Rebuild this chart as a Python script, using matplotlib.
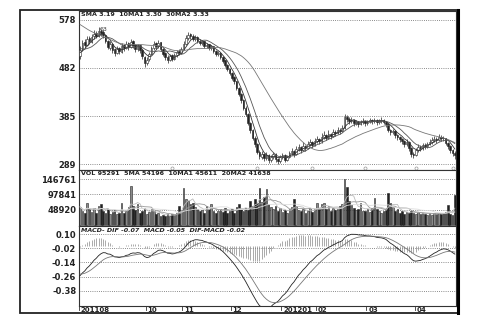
import numpy as np
import pandas as pd
import matplotlib.pyplot as plt
from matplotlib.patches import Rectangle
from matplotlib.lines import Line2D

# price history before the visible window (only used to warm up the averages)
pre_close = [6.30, 6.26, 6.32, 6.28, 6.22, 6.25, 6.18, 6.20, 6.15, 6.18, 6.10,
             6.12, 6.05, 6.00, 5.94, 5.88, 5.90, 5.80, 5.74, 5.70, 5.62, 5.58,
             5.50, 5.44, 5.40, 5.32, 5.28, 5.20, 5.24, 5.15, 5.10, 5.08, 5.12]

# daily candles, 201108 .. 201204
close = [5.18, 5.32, 5.28, 5.40, 5.35, 5.44, 5.50, 5.46, 5.55, 5.52, 5.48, 5.36,
         5.24, 5.30, 5.18, 5.12, 5.20, 5.15, 5.26, 5.22, 5.30, 5.24, 5.34, 5.28,
         5.20, 5.26, 5.18, 5.05, 4.92, 4.98, 5.10, 5.22, 5.30, 5.26, 5.32, 5.20,
         5.10, 5.04, 4.98, 5.06, 5.00, 5.08, 5.14, 5.12, 5.20, 5.30, 5.42, 5.48,
         5.45, 5.40, 5.42, 5.36, 5.32, 5.34, 5.26, 5.28, 5.22, 5.24, 5.16, 5.10,
         5.12, 5.04, 4.96, 4.88, 4.80, 4.72, 4.62, 4.55, 4.42, 4.30, 4.18, 4.02,
         3.90, 3.72, 3.58, 3.42, 3.30, 3.14, 3.05, 3.10, 3.02, 3.08, 2.98, 3.04,
         3.10, 3.00, 2.96, 3.04, 3.08, 2.98, 3.04, 3.12, 3.16, 3.10, 3.20, 3.24,
         3.18, 3.26, 3.22, 3.30, 3.34, 3.28, 3.36, 3.40, 3.35, 3.44, 3.48, 3.42,
         3.50, 3.46, 3.54, 3.52, 3.58, 3.56, 3.62, 3.84, 3.80, 3.76, 3.78, 3.72,
         3.74, 3.70, 3.74, 3.76, 3.72, 3.74, 3.78, 3.75, 3.77, 3.73, 3.76, 3.78,
         3.74, 3.70, 3.58, 3.54, 3.56, 3.48, 3.44, 3.40, 3.36, 3.30, 3.34, 3.22,
         3.10, 3.08, 3.18, 3.24, 3.22, 3.28, 3.26, 3.30, 3.34, 3.38, 3.40, 3.38,
         3.44, 3.42, 3.41, 3.32, 3.26, 3.18, 3.12, 3.07]
open_ = [5.05, 5.20, 5.33, 5.27, 5.41, 5.34, 5.45, 5.52, 5.45, 5.56, 5.53, 5.47,
         5.35, 5.22, 5.30, 5.19, 5.12, 5.21, 5.14, 5.27, 5.22, 5.31, 5.24, 5.35,
         5.28, 5.19, 5.27, 5.17, 5.04, 4.91, 4.99, 5.10, 5.22, 5.31, 5.25, 5.33,
         5.20, 5.11, 5.04, 4.98, 5.07, 5.00, 5.08, 5.15, 5.12, 5.20, 5.30, 5.42,
         5.49, 5.46, 5.39, 5.43, 5.36, 5.31, 5.35, 5.25, 5.29, 5.21, 5.25, 5.16,
         5.09, 5.12, 5.04, 4.97, 4.88, 4.80, 4.72, 4.63, 4.55, 4.42, 4.30, 4.18,
         4.02, 3.90, 3.72, 3.58, 3.42, 3.30, 3.14, 3.04, 3.10, 3.02, 3.08, 2.97,
         3.04, 3.10, 3.00, 2.96, 3.04, 3.08, 2.98, 3.04, 3.12, 3.16, 3.10, 3.20,
         3.24, 3.18, 3.26, 3.22, 3.30, 3.34, 3.28, 3.36, 3.40, 3.35, 3.44, 3.48,
         3.42, 3.50, 3.46, 3.54, 3.52, 3.58, 3.56, 3.62, 3.84, 3.80, 3.76, 3.78,
         3.72, 3.74, 3.70, 3.74, 3.76, 3.72, 3.74, 3.78, 3.75, 3.77, 3.73, 3.76,
         3.78, 3.74, 3.70, 3.58, 3.54, 3.56, 3.48, 3.44, 3.40, 3.36, 3.30, 3.34,
         3.22, 3.10, 3.08, 3.18, 3.24, 3.22, 3.28, 3.26, 3.30, 3.34, 3.38, 3.40,
         3.38, 3.44, 3.42, 3.41, 3.32, 3.26, 3.18, 3.12]
high = [5.26, 5.38, 5.40, 5.46, 5.45, 5.50, 5.58, 5.56, 5.63, 5.60, 5.57, 5.50,
        5.38, 5.35, 5.32, 5.22, 5.26, 5.24, 5.32, 5.30, 5.36, 5.34, 5.40, 5.38,
        5.30, 5.30, 5.28, 5.20, 5.06, 5.04, 5.14, 5.26, 5.36, 5.34, 5.38, 5.34,
        5.22, 5.14, 5.08, 5.10, 5.10, 5.12, 5.18, 5.20, 5.24, 5.36, 5.48, 5.54,
        5.52, 5.50, 5.47, 5.45, 5.40, 5.38, 5.36, 5.32, 5.30, 5.28, 5.26, 5.18,
        5.16, 5.14, 5.06, 4.98, 4.90, 4.82, 4.74, 4.66, 4.56, 4.44, 4.32, 4.20,
        4.06, 3.92, 3.74, 3.60, 3.45, 3.32, 3.18, 3.16, 3.12, 3.14, 3.10, 3.08,
        3.14, 3.12, 3.02, 3.08, 3.12, 3.10, 3.08, 3.16, 3.22, 3.18, 3.26, 3.30,
        3.26, 3.34, 3.28, 3.36, 3.40, 3.36, 3.42, 3.46, 3.42, 3.52, 3.56, 3.50,
        3.58, 3.52, 3.60, 3.58, 3.64, 3.62, 3.68, 3.90, 3.88, 3.84, 3.84, 3.80,
        3.78, 3.76, 3.78, 3.82, 3.78, 3.78, 3.82, 3.80, 3.82, 3.80, 3.80, 3.84,
        3.80, 3.76, 3.72, 3.60, 3.60, 3.58, 3.50, 3.46, 3.42, 3.38, 3.40, 3.36,
        3.24, 3.14, 3.22, 3.30, 3.28, 3.32, 3.32, 3.34, 3.40, 3.44, 3.46, 3.44,
        3.50, 3.48, 3.46, 3.42, 3.34, 3.28, 3.20, 3.16]
low = [5.00, 5.16, 5.22, 5.25, 5.30, 5.32, 5.40, 5.42, 5.44, 5.46, 5.42, 5.32,
       5.20, 5.18, 5.12, 5.06, 5.10, 5.10, 5.12, 5.16, 5.20, 5.18, 5.22, 5.22,
       5.14, 5.16, 5.12, 5.00, 4.84, 4.88, 4.96, 5.08, 5.18, 5.20, 5.22, 5.16,
       5.06, 4.98, 4.92, 4.96, 4.96, 4.98, 5.04, 5.08, 5.10, 5.18, 5.28, 5.38,
       5.40, 5.36, 5.35, 5.32, 5.28, 5.27, 5.22, 5.22, 5.18, 5.18, 5.12, 5.06,
       5.05, 5.00, 4.92, 4.84, 4.76, 4.68, 4.58, 4.50, 4.38, 4.26, 4.12, 3.98,
       3.86, 3.68, 3.52, 3.38, 3.24, 3.10, 3.00, 3.00, 2.96, 2.98, 2.92, 2.94,
       3.00, 2.94, 2.90, 2.92, 3.00, 2.94, 2.96, 3.02, 3.08, 3.04, 3.08, 3.16,
       3.12, 3.16, 3.16, 3.20, 3.26, 3.22, 3.26, 3.32, 3.30, 3.32, 3.40, 3.38,
       3.40, 3.40, 3.44, 3.46, 3.50, 3.50, 3.54, 3.60, 3.74, 3.70, 3.72, 3.66,
       3.68, 3.64, 3.68, 3.70, 3.66, 3.68, 3.72, 3.70, 3.72, 3.68, 3.70, 3.72,
       3.70, 3.64, 3.54, 3.48, 3.50, 3.42, 3.38, 3.34, 3.30, 3.24, 3.26, 3.16,
       3.04, 3.02, 3.06, 3.14, 3.16, 3.18, 3.20, 3.22, 3.28, 3.30, 3.34, 3.32,
       3.36, 3.36, 3.36, 3.28, 3.20, 3.12, 3.06, 3.00]

# volume in thousands of shares
volume_k = [58, 45, 40, 72, 50, 42, 55, 38, 60, 68, 44, 40, 52, 36, 42, 48, 34,
            38, 70, 40, 46, 58, 124, 62, 48, 68, 40, 46, 55, 36, 42, 50, 45, 34,
            38, 30, 32, 28, 36, 30, 34, 32, 40, 60, 48, 120, 82, 78, 66, 72, 58,
            50, 44, 48, 40, 62, 52, 66, 46, 40, 44, 50, 42, 56, 38, 46, 52, 40,
            58, 68, 50, 44, 56, 48, 76, 62, 83, 70, 120, 74, 90, 114, 66, 58, 50,
            62, 46, 54, 42, 48, 40, 52, 58, 82, 60, 48, 44, 52, 40, 46, 56, 42,
            50, 70, 54, 66, 72, 50, 62, 44, 56, 48, 52, 60, 66, 146.761, 122, 76,
            64, 56, 48, 52, 70, 46, 44, 50, 42, 56, 88, 52, 46, 40, 44, 50, 104,
            72, 58, 46, 50, 40, 44, 36, 42, 38, 46, 40, 36, 42, 34, 38, 36, 32,
            40, 33, 38, 34, 40, 36, 37, 42, 65, 36, 32.7, 95.291]

month_labels = ['201108', '10', '11', '12', '201201', '02', '03', '04']
month_starts = [0, 29, 45, 66, 88, 103, 125, 146]
marker_days = [40, 77, 101, 124, 146, 162]

price_ticks = [5.78, 4.82, 3.85, 2.89]
price_tick_labels = ['578', '482', '385', '289']
vol_ticks = [146761, 97841, 48920]
macd_ticks = [0.10, -0.02, -0.14, -0.26, -0.38]

n = len(close)
x = np.arange(n)
o = np.array(open_)
c = np.array(close)
h = np.array(high)
l = np.array(low)
vol = np.array(volume_k) * 1000

# indicators
full = pd.Series(pre_close + close)
k = len(pre_close)
ma5 = full.rolling(5).mean().values[k:]
ma10 = full.rolling(10).mean().values[k:]
ma30 = full.rolling(30, min_periods=1).mean().values[k:]
dif_all = full.ewm(span=12, adjust=False).mean() - full.ewm(span=26, adjust=False).mean()
dea_all = dif_all.ewm(span=9, adjust=False).mean()
dif = dif_all.values[k:]
dea = dea_all.values[k:]
hist = dif - dea

vs = pd.Series(vol)
vma5 = vs.rolling(5, min_periods=1).mean()
vma10 = vs.rolling(10, min_periods=1).mean()
vma20 = vs.rolling(20, min_periods=1).mean()

W, H = 490, 315
def box(x0, y0, x1, y1):
    return [x0 / W, 1 - y1 / H, (x1 - x0) / W, (y1 - y0) / H]

fig = plt.figure(figsize=(4.9, 3.15), dpi=100)
ax1 = fig.add_axes(box(79, 11, 456, 170))
ax2 = fig.add_axes(box(79, 170, 456, 226), sharex=ax1)
ax3 = fig.add_axes(box(79, 226, 456, 306), sharex=ax1)

grid_kw = dict(color='#666666', lw=0.6, ls=(0, (1, 1.6)), zorder=0)
lab_kw = dict(fontsize=6, fontweight='bold', color='#222222')

for ax in (ax1, ax2, ax3):
    for s in ax.spines.values():
        s.set_color('#333333')
        s.set_linewidth(0.8)
    ax.tick_params(axis='y', length=0, pad=2)
    ax.tick_params(axis='x', length=0, labelbottom=False)
    ax.set_xlim(-0.5, n - 0.5)

# price panel
up = c >= o
ax1.vlines(x, l, h, color='#222222', lw=0.5, zorder=2)
body = np.maximum(np.abs(c - o), 0.008)
ax1.bar(x, body, bottom=np.minimum(o, c), width=0.72,
        color=np.where(up, 'white', '#222222'), edgecolor='#222222', lw=0.4, zorder=3)
ax1.plot(x, ma5, color='#333333', lw=0.6, zorder=4)
ax1.plot(x, ma10, color='#555555', lw=0.6, zorder=4)
ax1.plot(x, ma30, color='#777777', lw=0.6, zorder=4)
ax1.plot(marker_days, [2.82] * len(marker_days), 'o', ms=2.2, mfc='white',
         mec='#999999', mew=0.5, zorder=5)
for v in price_ticks:
    ax1.axhline(v, **grid_kw)
ax1.set_ylim(2.77, 5.96)
ax1.set_yticks(price_ticks)
ax1.set_yticklabels(price_tick_labels, **lab_kw)
ax1.text(8.6, 5.56, '63', fontsize=4.5, color='#333333')
ax1.text(0.5, 5.88, 'SMA 3.19  10MA1 3.30  30MA2 3.33', fontsize=4.6,
         fontweight='bold', color='#222222', va='center')

# volume panel
ax2.bar(x, vol, width=0.72, color=np.where(up, '#8a8a8a', '#222222'),
        edgecolor='#222222', lw=0.4, zorder=2)
ax2.plot(x, vma5, color='#bbbbbb', lw=0.6, zorder=3)
ax2.plot(x, vma10, color='#999999', lw=0.6, zorder=3)
ax2.plot(x, vma20, color='#dddddd', lw=0.6, zorder=3)
for v in vol_ticks:
    ax2.axhline(v, **grid_kw)
ax2.set_ylim(-3000, 176000)
ax2.set_yticks(vol_ticks)
ax2.set_yticklabels([str(v) for v in vol_ticks], **lab_kw)
ax2.text(0.5, 166000, 'VOL 95291  5MA 54196  10MA1 45611  20MA2 41638',
         fontsize=4.6, fontweight='bold', color='#222222', va='center')

# macd panel
ax3.vlines(x, 0, hist, color='#888888', lw=0.5, zorder=2)
ax3.plot(x, dif, color='#222222', lw=0.6, zorder=3)
ax3.plot(x, dea, color='#777777', lw=0.6, zorder=3)
for v in macd_ticks:
    ax3.axhline(v, **grid_kw)
ax3.set_ylim(-0.509, 0.169)
ax3.set_yticks(macd_ticks)
ax3.set_yticklabels(['%.2f' % v for v in macd_ticks], **lab_kw)
ax3.text(0.5, 0.135, 'MACD- DIF -0.07  MACD -0.05  DIF-MACD -0.02',
         fontsize=4.6, fontweight='bold', fontstyle='italic', color='#222222',
         va='center')

# month ticks and labels under the macd panel
trans = ax3.get_xaxis_transform()
for d, lab in zip(month_starts, month_labels):
    ax3.plot([d - 0.5, d - 0.5], [0, -0.05], color='#333333', lw=0.6,
             transform=trans, clip_on=False)
    ax3.text(d + 0.3, -0.045, lab, transform=trans, ha='left', va='center',
             fontsize=5, fontweight='bold', color='#222222')

# outer frame
fig.patches.append(Rectangle((20 / W, 1 - 313 / H), 438 / W, 303 / H,
                             transform=fig.transFigure, fill=False,
                             edgecolor='#222222', lw=1.3))
fig.lines.append(Line2D([458 / W, 458 / W], [1 - 313 / H, 1 - 10 / H],
                        transform=fig.transFigure, color='black', lw=2.2))

fig.savefig('out.png', dpi=100, facecolor='white')
